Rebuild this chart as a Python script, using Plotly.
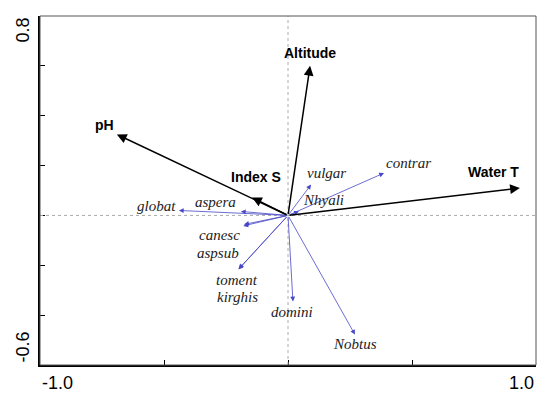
import plotly.graph_objects as go

# Environmental variables (black arrows)
env_names = ['pH', 'Index S', 'Altitude', 'Water T']
env_x = [-0.69, -0.145, 0.089, 0.935]
env_y = [0.325, 0.072, 0.60, 0.11]

# Species (blue arrows)
sp_names = ['vulgar', 'contrar', 'Nhyali', 'globat', 'aspera', 'canesc', 'aspsub',
            'toment', 'kirghis', 'domini', 'Nobtus']
sp_x = [0.093, 0.387, 0.044, -0.44, -0.19, -0.177, -0.18, -0.20, -0.198, 0.02, 0.27]
sp_y = [0.124, 0.17, 0.016, 0.02, 0.016, -0.036, -0.042, -0.217, -0.214, -0.345, -0.478]

# label offsets in pixels (xshift, yshift)
env_off = [(-12, 9), (4, 20), (0, 13), (-26, 16)]
sp_off = [(15, 12), (25, 10), (25, 11), (-22, 4), (-25, 9), (-25, -11), (-25, -27),
          (-1, -10), (-1, -28), (-1, -11), (0, -9)]

fig = go.Figure()
fig.add_trace(go.Scatter(x=[-1, 1], y=[-0.6, 0.8], mode='markers',
                         marker=dict(opacity=0), hoverinfo='skip', showlegend=False))

ann = []
blue = 'rgb(70,70,200)'
for n, x, y, (dx, dy) in zip(sp_names, sp_x, sp_y, sp_off):
    ann.append(dict(x=x, y=y, ax=0, ay=0, xref='x', yref='y', axref='x', ayref='y',
                    text='', showarrow=True, arrowhead=2, arrowsize=1.2, arrowwidth=0.8,
                    arrowcolor=blue, standoff=0))
    ann.append(dict(x=x, y=y, xref='x', yref='y', text=n, showarrow=False,
                    xshift=dx, yshift=dy,
                    font=dict(family='Liberation Serif', size=15, color='#222', style='italic')))
for n, x, y, (dx, dy) in zip(env_names, env_x, env_y, env_off):
    ann.append(dict(x=x, y=y, ax=0, ay=0, xref='x', yref='y', axref='x', ayref='y',
                    text='', showarrow=True, arrowhead=2, arrowsize=1.3, arrowwidth=1.5,
                    arrowcolor='black', standoff=0))
    ann.append(dict(x=x, y=y, xref='x', yref='y', text='<b>' + n + '</b>', showarrow=False,
                    xshift=dx, yshift=dy,
                    font=dict(family='Liberation Sans', size=14, color='black')))

# axis end labels
tfont = dict(family='Liberation Sans', size=18, color='black')
ann.append(dict(x=-1, y=0, xref='x', yref='paper', text='-1.0', showarrow=False,
                xanchor='left', yanchor='top', yshift=-6, font=tfont))
ann.append(dict(x=1, y=0, xref='x', yref='paper', text='1.0', showarrow=False,
                xanchor='right', yanchor='top', yshift=-6, font=tfont))
ann.append(dict(x=0, y=0.8, xref='paper', yref='y', text='0.8', showarrow=False, textangle=-90,
                xanchor='right', yanchor='top', xshift=-6, font=tfont))
ann.append(dict(x=0, y=-0.6, xref='paper', yref='y', text='-0.6', showarrow=False, textangle=-90,
                xanchor='right', yanchor='bottom', xshift=-6, font=tfont))

shapes = [
    dict(type='line', xref='x', yref='paper', x0=0, x1=0, y0=0, y1=1,
         line=dict(color='#aaa', width=1, dash='dot')),
    dict(type='line', xref='paper', yref='y', x0=0, x1=1, y0=0, y1=0,
         line=dict(color='#aaa', width=1, dash='dot')),
    dict(type='rect', xref='paper', yref='paper', x0=0, x1=1, y0=0, y1=1,
         line=dict(color='#555', width=1)),
]

# page body has an 8px margin, so the figure is shrunk to fit the window
fig.update_layout(
    width=542, height=393, plot_bgcolor='white', paper_bgcolor='white',
    margin=dict(l=32, r=14, t=8, b=36), showlegend=False,
    annotations=ann, shapes=shapes,
    xaxis=dict(range=[-1, 1], tickvals=[-1, -0.5, 0, 0.5, 1], showticklabels=False,
               ticks='inside', ticklen=5, tickcolor='black', showgrid=False, zeroline=False,
               showline=True, linecolor='black', linewidth=2),
    yaxis=dict(range=[-0.6, 0.8], tickvals=[-0.6, -0.4, -0.2, 0, 0.2, 0.4, 0.6, 0.8],
               showticklabels=False, ticks='inside', ticklen=5, tickcolor='black',
               showgrid=False, zeroline=False, showline=True, linecolor='black', linewidth=2),
)

fig.write_html("out.html")
